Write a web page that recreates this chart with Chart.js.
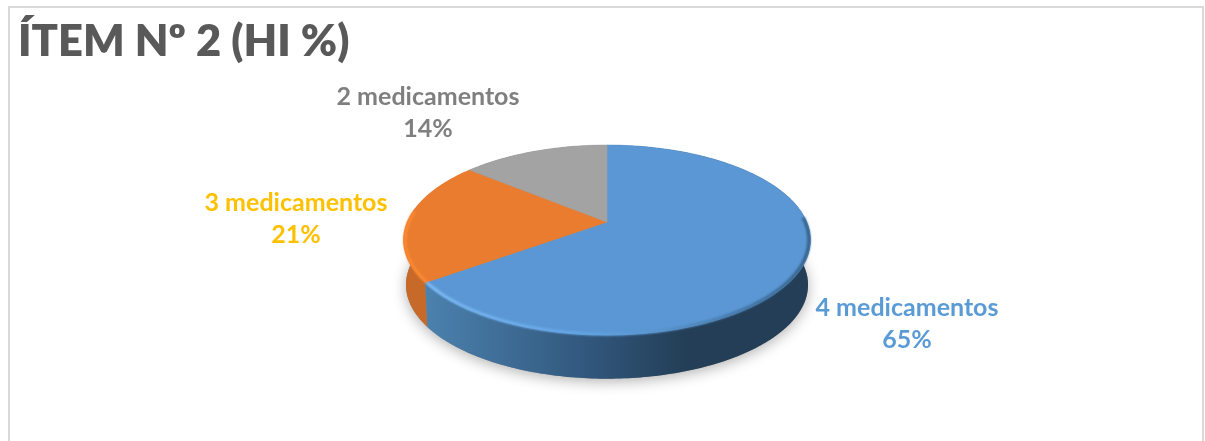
<!DOCTYPE html>
<html>
<head>
<meta charset="utf-8">
<title>ÍTEM Nº 2 (HI %)</title>
<script src="https://cdn.jsdelivr.net/npm/chart.js@4"></script>
<style>
    html, body { margin: 0; padding: 0; background: #fff; overflow: hidden; }
    #wrap { position: relative; width: 1205px; height: 441px; overflow: hidden; }
    #frame { position: absolute; left: 8px; top: 6px; width: 1196px; height: 470px; border: 2px solid #d9d9d9; box-sizing: border-box; }
    canvas { position: absolute; left: 0; top: 0; }
</style>
</head>
<body>
<div id="wrap">
    <div id="frame"></div>
    <canvas id="pieChart" width="1205" height="441"></canvas>
</div>
<script>
const chartTitle = 'ÍTEM Nº 2 (HI %)';
const categories = ['4 medicamentos', '3 medicamentos', '2 medicamentos'];
const percentages = [65, 21, 14];
const sliceColors = ['#5a97d4', '#ea7c30', '#a3a3a3'];
const labelColors = ['#5b9bd5', '#ffc000', '#7f7f7f'];

// perspective of the tilted disc, px around the slice apex
const DISC_A = 199.8, DISC_B = 91.6, DISC_K = -0.189;
const WALL_DROP = 45, WALL_SCALE = 0.988;
const labelOffsets = [[300, 86], [-311, -19], [-179, -125]];

function rimPoint(arc, angle, scale, drop) {
    const u = Math.cos(angle), v = Math.sin(angle);
    const w = 1 + DISC_K * v;
    return {
        x: arc.x + scale * DISC_A * u / w,
        y: arc.y + drop + scale * DISC_B * v / w
    };
}

function traceRim(ctx, arc, from, to, scale, drop) {
    const steps = Math.max(8, Math.ceil(Math.abs(to - from) * 60));
    for (let i = 0; i <= steps; i++) {
        const p = rimPoint(arc, from + (to - from) * i / steps, scale, drop);
        ctx.lineTo(p.x, p.y);
    }
}

const disc3d = {
    id: 'disc3d',
    beforeDatasetDraw(chart, args) {
        const ctx = chart.ctx;
        const arcs = chart.getDatasetMeta(args.index).data;
        const first = arcs[0];

        // soft shadow under the disc
        ctx.save();
        ctx.shadowColor = 'rgba(0,0,0,0.3)';
        ctx.shadowBlur = 14;
        ctx.shadowOffsetY = 3;
        ctx.fillStyle = '#8a8a8a';
        ctx.beginPath();
        traceRim(ctx, first, 0, Math.PI * 2, WALL_SCALE, WALL_DROP);
        ctx.closePath();
        ctx.fill();
        ctx.restore();

        // side wall, front slices last
        const blueWall = ctx.createLinearGradient(first.x - 180, 0, first.x + 80, 0);
        blueWall.addColorStop(0, '#4b81ae');
        blueWall.addColorStop(0.65, '#30557a');
        blueWall.addColorStop(1, '#233e56');
        const wallFill = [blueWall, '#c76a29', '#7c7c7c'];
        [2, 1, 0].forEach(i => {
            const arc = arcs[i];
            ctx.fillStyle = wallFill[i];
            ctx.beginPath();
            traceRim(ctx, arc, arc.startAngle, arc.endAngle, 1, 0);
            traceRim(ctx, arc, arc.endAngle, arc.startAngle, WALL_SCALE, WALL_DROP);
            ctx.closePath();
            ctx.fill();
        });

        // top face
        arcs.forEach(arc => {
            ctx.fillStyle = arc.options.backgroundColor;
            ctx.strokeStyle = arc.options.backgroundColor;
            ctx.lineWidth = 0.6;
            ctx.beginPath();
            ctx.moveTo(arc.x, arc.y);
            traceRim(ctx, arc, arc.startAngle, arc.endAngle, 1, 0);
            ctx.closePath();
            ctx.fill();
            ctx.stroke();
        });

        // bevel along the front edge, slightly soft
        const bevel = ctx.createLinearGradient(first.x - 180, 0, first.x + 203, 0);
        bevel.addColorStop(0, '#7dbcf5');
        bevel.addColorStop(0.4, '#64a6e6');
        bevel.addColorStop(0.6, '#5a94cd');
        bevel.addColorStop(0.85, '#3f6f9c');
        bevel.addColorStop(1, '#335c82');
        ctx.save();
        ctx.filter = 'blur(0.8px)';
        ctx.lineWidth = 3;
        ctx.lineCap = 'butt';
        ctx.strokeStyle = bevel;
        ctx.beginPath();
        traceRim(ctx, first, first.endAngle, -0.05, 0.992, 0);
        ctx.stroke();

        const second = arcs[1];
        ctx.strokeStyle = '#fb8a33';
        ctx.beginPath();
        traceRim(ctx, second, second.startAngle, second.startAngle + 0.75, 0.992, 0);
        ctx.stroke();
        ctx.restore();

        return false; // default flat arcs are replaced by the disc
    },
    afterDatasetsDraw(chart) {
        const ctx = chart.ctx;
        const arcs = chart.getDatasetMeta(0).data;
        ctx.save();
        ctx.font = 'bold 25px Lato';
        ctx.textAlign = 'center';
        ctx.textBaseline = 'middle';
        arcs.forEach((arc, i) => {
            const x = arc.x + labelOffsets[i][0];
            const y = arc.y + labelOffsets[i][1];
            ctx.fillStyle = labelColors[i];
            ctx.fillText(categories[i], x, y);
            ctx.fillText(percentages[i] + '%', x, y + 32);
        });
        ctx.restore();
    }
};

new Chart(document.getElementById('pieChart'), {
    type: 'pie',
    data: {
        labels: categories,
        datasets: [{ data: percentages, backgroundColor: sliceColors, borderWidth: 0 }]
    },
    options: {
        responsive: false,
        animation: false,
        layout: { padding: { left: 18, right: 9, top: 0, bottom: 68 } },
        plugins: {
            legend: { display: false },
            tooltip: { enabled: false },
            title: {
                display: true,
                text: chartTitle,
                align: 'start',
                color: '#595959',
                font: { family: 'Lato', size: 43.5, weight: 800, lineHeight: 1.2 },
                padding: { top: 16, bottom: 3 }
            }
        }
    },
    plugins: [disc3d]
});
</script>
</body>
</html>
